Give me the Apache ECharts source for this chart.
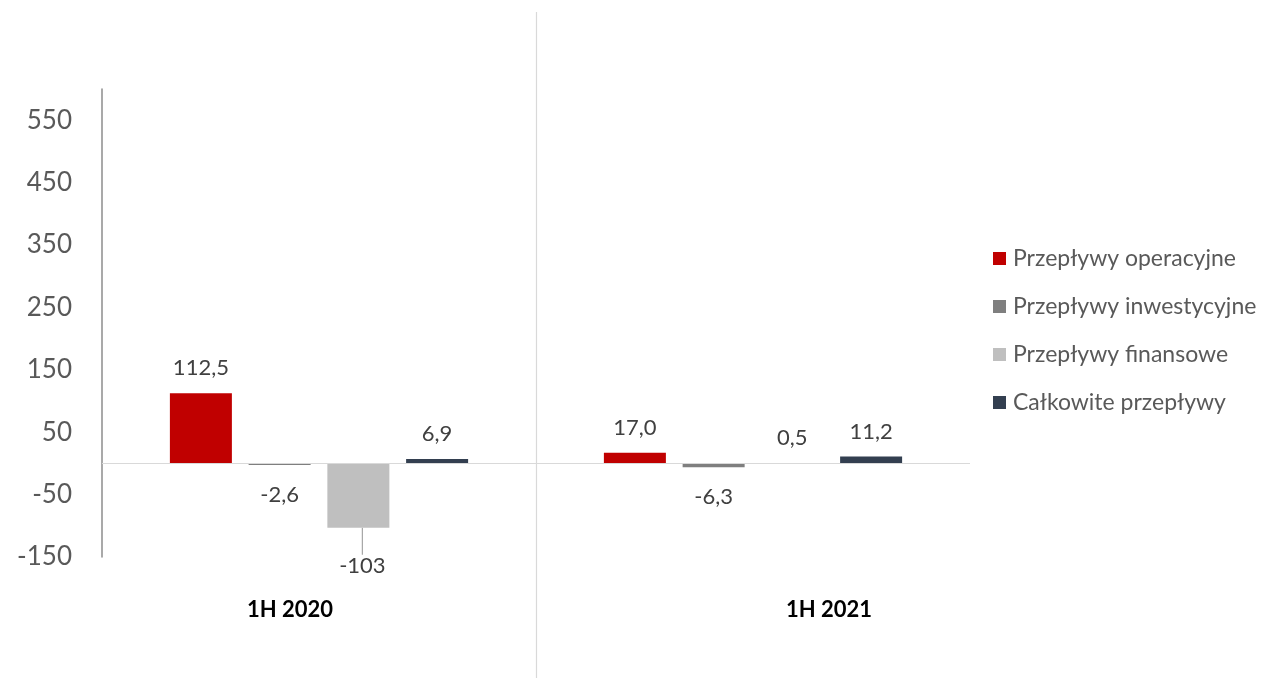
<!DOCTYPE html>
<html>
<head>
<meta charset="utf-8">
<script src="https://cdn.jsdelivr.net/npm/echarts@6/dist/echarts.min.js"></script>
<style>html,body{margin:0;padding:0;background:#fff}#c{width:1274px;height:678px}</style>
</head>
<body>
<div id="c"></div>
<script>
var categories = ['1H 2020', '1H 2021'];
var seriesNames = ['Przepływy operacyjne', 'Przepływy inwestycyjne', 'Przepływy finansowe', 'Całkowite przepływy'];
var operacyjne = [112.5, 17.0];
var inwestycyjne = [-2.6, -6.3];
var finansowe = [-103, 0.5];
var calkowite = [6.9, 11.2];
var valueLabels = [['112,5', '17,0'], ['-2,6', '-6,3'], ['-103', '0,5'], ['6,9', '11,2']];
var yTickLabels = [-150, -50, 50, 150, 250, 350, 450, 550];

var colors = ['#C00000', '#7F7F7F', '#BFBFBF', '#333F50'];
var FONT = 'Lato';
var allValues = [operacyjne, inwestycyjne, finansowe, calkowite];

var chart = echarts.init(document.getElementById('c'));

var series = allValues.map(function (vals, si) {
  return {
    name: seriesNames[si],
    type: 'bar',
    barWidth: 62,
    barGap: '27%',
    itemStyle: { color: colors[si] },
    data: vals.map(function (v, di) {
      var item = {
        value: v,
        label: {
          show: true,
          position: v < 0 ? 'bottom' : 'top',
          distance: v < 0 ? 19 : 14,
          formatter: valueLabels[si][di],
          fontFamily: FONT,
          fontSize: 22,
          color: '#404040'
        }
      };
      if (si === 2 && di === 0) {
        item.labelLine = { show: true, lineStyle: { color: '#A6A6A6', width: 1.2 } };
      }
      return item;
    }),
    labelLayout: function (p) {
      if (p.seriesIndex === 2 && p.dataIndex === 0) return { dy: 8, dx: 4 };
      return {};
    },
    labelLine: { show: false },
    markLine: si === 0 ? {
      silent: true, symbol: 'none', label: { show: false },
      lineStyle: { color: '#D9D9D9', width: 1.2, type: 'solid' },
      data: [{ yAxis: 0 }]
    } : undefined
  };
});

chart.setOption({
  animation: false,
  color: colors,
  grid: { left: 102, right: 304, top: 89, bottom: 121, containLabel: false },
  legend: {
    orient: 'vertical',
    left: 993, top: 247, padding: 0,
    icon: 'rect', itemWidth: 13, itemHeight: 13, itemGap: 25,
    textStyle: { fontFamily: FONT, fontSize: 23, color: '#595959', padding: [0, 0, 0, 2] },
    data: seriesNames
  },
  xAxis: {
    type: 'category',
    data: categories,
    axisLine: { show: false, onZero: false },
    axisTick: { show: false },
    axisLabel: {
      margin: 42,
      formatter: function (v, i) { return '{c' + i + '|' + v + '}'; },
      rich: {
        c0: { fontFamily: FONT, fontSize: 22, fontWeight: 'bold', color: '#000', padding: [0, 58, 0, 0] },
        c1: { fontFamily: FONT, fontSize: 22, fontWeight: 'bold', color: '#000', padding: [0, 0, 0, 152] }
      }
    },
    splitLine: { show: false }
  },
  yAxis: {
    type: 'value',
    min: -150, max: 600, interval: 50,
    axisLine: { show: true, lineStyle: { color: '#8C8C8C', width: 1.5 } },
    axisTick: { show: false },
    splitLine: { show: false },
    axisLabel: {
      margin: 30,
      fontFamily: FONT, fontSize: 26, color: '#595959',
      formatter: function (v) { return yTickLabels.indexOf(v) >= 0 ? String(v) : ''; }
    }
  },
  series: series
});

// separator line at the boundary between the two categories
var p0 = chart.convertToPixel({ xAxisIndex: 0 }, categories[0]);
var p1 = chart.convertToPixel({ xAxisIndex: 0 }, categories[1]);
var bx = Math.round((p0 + p1) / 2) + 0.5;
chart.setOption({
  graphic: [{
    type: 'line', silent: true, z: -1,
    shape: { x1: bx, y1: 12, x2: bx, y2: 678 },
    style: { stroke: '#D9D9D9', lineWidth: 1.2 }
  }]
});
</script>
</body>
</html>
